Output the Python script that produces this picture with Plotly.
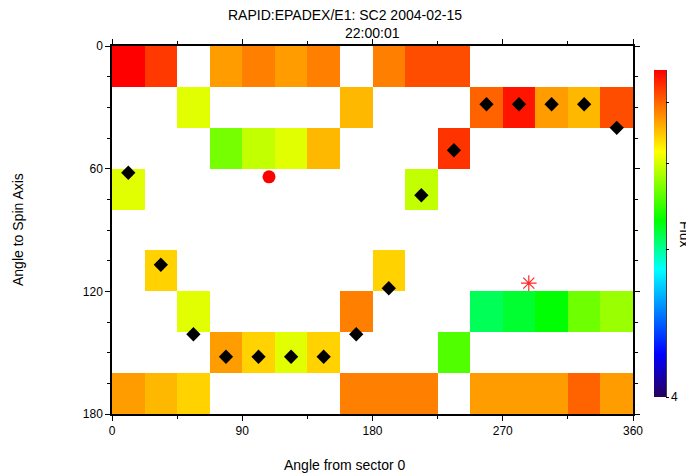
import plotly.graph_objects as go

# Bin edges
sector_edges = [0, 22.5, 45, 67.5, 90, 112.5, 135, 157.5, 180,
                202.5, 225, 247.5, 270, 292.5, 315, 337.5, 360]
pitch_edges = [0, 20, 40, 60, 80, 100, 120, 140, 160, 180]

N = None
# Flux values per pitch-angle row (rows 0-20 ... 160-180), 16 sectors each
flux = [
    [40.0, 38.0, N, 34.5, 35.5, 34.5, 35.5, N, 35.5, 37.3, 37.3, N, N, N, N, N],
    [N, N, 30.1, N, N, N, N, 33.5, N, N, N, 36.5, 39.3, 34.5, 33.5, 37.3],
    [N, N, N, 26.9, 29.2, 30.1, 33.5, N, N, N, 38.2, N, N, N, N, N],
    [30.1, N, N, N, N, N, N, N, N, 29.2, N, N, N, N, N, N],
    [N, N, N, N, N, N, N, N, N, N, N, N, N, N, N, N],
    [N, 32.6, N, N, N, N, N, N, 32.6, N, N, N, N, N, N, N],
    [N, N, 30.1, N, N, N, N, 35.5, N, N, N, 21.6, 22.4, 23.4, 26.7, 28.0],
    [N, N, N, 34.5, 32.6, 30.1, 32.6, N, N, N, 25.8, N, N, N, N, N],
    [34.5, 33.5, 32.6, N, N, N, N, 35.5, 35.5, 35.5, N, 34.5, 34.5, 34.5, 36.5, 34.5],
]

# Black diamonds (per sector)
diamond_x = [11.25, 33.75, 56.25, 78.75, 101.25, 123.75, 146.25, 168.75,
             191.25, 213.75, 236.25, 258.75, 281.25, 303.75, 326.25, 348.75]
diamond_y = [62, 107, 141, 152, 152, 152, 152, 141,
             118.5, 73, 51, 28.5, 28.5, 28.5, 28.5, 40]

circle_x = [108.5]
circle_y = [64]
star_x = [288]
star_y = [116]

cbar_tickvals = [4, 20.26, 29.73, 36.47]
cbar_ticktext = ["4", "", "", ""]

colorscale = [
    [0.0, "rgb(40,0,90)"],
    [0.13, "rgb(0,0,255)"],
    [0.39, "rgb(0,255,255)"],
    [0.54, "rgb(0,255,0)"],
    [0.75, "rgb(255,255,0)"],
    [1.0, "rgb(255,0,0)"],
]

FONT = "Liberation Sans, Arial, sans-serif"
TFS = 14  # title font size

# plot area in page pixels: x 112..633, y 46..414
PX0, PW, PY1, PH = 112, 521, 414, 368


def px(xp):
    return (xp - PX0) / PW


def py(yp):
    return (PY1 - yp) / PH


fig = go.Figure()
fig.add_trace(go.Heatmap(
    x=sector_edges, y=pitch_edges, z=flux,
    zmin=4, zmax=40, colorscale=colorscale,
    hoverongaps=False,
    colorbar=dict(
        x=px(654), xanchor="left", xpad=0,
        y=py(397), yanchor="bottom", ypad=0,
        len=327 / PH, lenmode="fraction",
        thickness=12, thicknessmode="pixels",
        outlinewidth=0, borderwidth=0,
        tickvals=cbar_tickvals, ticktext=cbar_ticktext,
        ticks="outside", ticklen=3, tickcolor="black", tickwidth=1,
        tickfont=dict(family=FONT, size=12, color="black"),
    ),
))
fig.add_trace(go.Scatter(
    x=diamond_x, y=diamond_y, mode="markers",
    marker=dict(symbol="diamond", size=11, color="black"),
    showlegend=False,
))
fig.add_trace(go.Scatter(
    x=circle_x, y=circle_y, mode="markers",
    marker=dict(symbol="circle", size=13, color="rgb(255,0,0)"),
    showlegend=False,
))
fig.add_trace(go.Scatter(
    x=star_x, y=star_y, mode="markers",
    marker=dict(symbol="asterisk-open", size=13, color="rgb(255,40,40)",
                line=dict(color="rgb(255,40,40)", width=1.2)),
    showlegend=False,
))

axis_common = dict(
    showgrid=False, zeroline=False, showline=True, linecolor="black",
    linewidth=1.5, mirror="ticks", ticks="outside", ticklen=5,
    tickcolor="black", tickwidth=1,
    tickfont=dict(family=FONT, size=12, color="black"),
)
fig.update_xaxes(range=[0, 360], tick0=0, dtick=90,
                 minor=dict(dtick=45, ticks="outside", ticklen=3, tickcolor="black"),
                 **axis_common)
fig.update_yaxes(range=[180, 0], tick0=0, dtick=60,
                 minor=dict(dtick=15, ticks="outside", ticklen=3, tickcolor="black"),
                 **axis_common)

fig.update_layout(
    width=686, height=465,
    margin=dict(l=104, r=61, t=38, b=59, autoexpand=False),
    plot_bgcolor="white", paper_bgcolor="white",
    font=dict(family=FONT, size=12, color="black"),
    showlegend=False,
    shapes=[dict(type="line", xref="paper", yref="paper",
                 x0=px(666), x1=px(666), y0=py(397), y1=py(70),
                 line=dict(color="black", width=1.5))],
    annotations=[
        dict(text="RAPID:EPADEX/E1: SC2 2004-02-15", xref="paper", yref="paper",
             x=px(345), y=py(15), xanchor="center", yanchor="middle",
             showarrow=False, font=dict(family=FONT, size=TFS)),
        dict(text="22:00:01", xref="paper", yref="paper",
             x=0.5, y=py(33), xanchor="center", yanchor="middle",
             showarrow=False, font=dict(family=FONT, size=TFS)),
        dict(text="Angle from sector 0", xref="paper", yref="paper",
             x=px(345), y=py(465), xanchor="center", yanchor="middle",
             showarrow=False, font=dict(family=FONT, size=TFS)),
        dict(text="Angle to Spin Axis", xref="paper", yref="paper",
             x=px(18), y=0.5, xanchor="center", yanchor="middle",
             textangle=-90, showarrow=False, font=dict(family=FONT, size=TFS)),
        dict(text="Flux", xref="paper", yref="paper",
             x=px(685), y=py(234), xanchor="center", yanchor="middle",
             textangle=90, showarrow=False, font=dict(family=FONT, size=TFS)),
    ],
)

fig.write_html("out.html")
